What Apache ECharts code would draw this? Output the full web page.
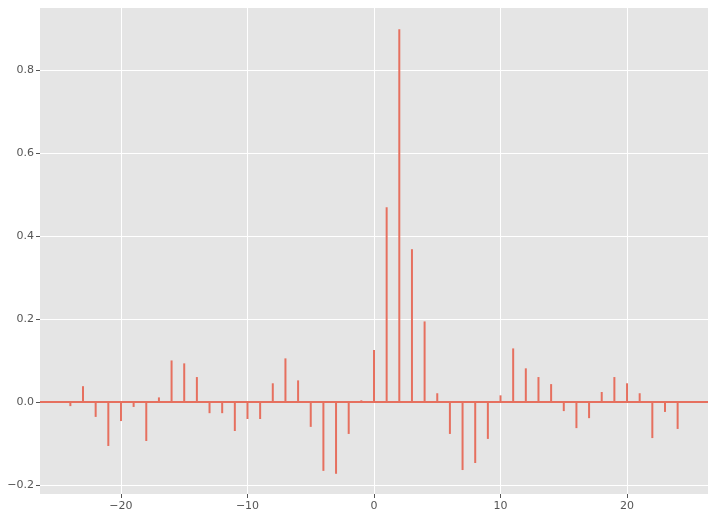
<!DOCTYPE html>
<html>
<head>
<meta charset="utf-8">
<script src="https://cdn.jsdelivr.net/npm/echarts@6/dist/echarts.min.js"></script>
<style>
  html, body { margin: 0; padding: 0; background: #fff; }
  #main { width: 715px; height: 520px; }
</style>
</head>
<body>
<div id="main"></div>
<script>
// lags and cross-correlation values
var lags = [-24, -23, -22, -21, -20, -19, -18, -17, -16, -15, -14, -13, -12, -11, -10, -9, -8, -7, -6, -5, -4, -3, -2, -1,
            0, 1, 2, 3, 4, 5, 6, 7, 8, 9, 10, 11, 12, 13, 14, 15, 16, 17, 18, 19, 20, 21, 22, 23, 24];
var corr = [-0.010, 0.038, -0.036, -0.106, -0.046, -0.012, -0.094, 0.011, 0.100, 0.093, 0.060, -0.027, -0.027, -0.070,
            -0.041, -0.041, 0.045, 0.105, 0.052, -0.060, -0.166, -0.173, -0.077, 0.004,
            0.125, 0.469, 0.898, 0.368, 0.194, 0.021, -0.077, -0.164, -0.147, -0.089, 0.016, 0.129, 0.081, 0.060,
            0.043, -0.022, -0.063, -0.039, 0.024, 0.060, 0.045, 0.021, -0.087, -0.024, -0.065];
var xTicks = [-20, -10, 0, 10, 20];
var yTicks = [-0.2, 0, 0.2, 0.4, 0.6, 0.8];

var stemColor = '#E6705F';

var chart = echarts.init(document.getElementById('main'));

var stems = [];
for (var i = 0; i < lags.length; i++) {
    stems.push([lags[i], corr[i]]);
}

function minus(s) {
    return s.replace('-', '\u2212');
}

chart.setOption({
    animation: false,
    backgroundColor: '#fff',
    grid: {
        left: 40,
        right: 7,
        top: 8,
        bottom: 26,
        show: true,
        backgroundColor: '#E5E5E5',
        borderWidth: 0
    },
    xAxis: {
        type: 'value',
        min: -26.4,
        max: 26.4,
        axisLine: { show: false, onZero: false },
        axisTick: {
            show: true,
            length: 4,
            lineStyle: { color: '#555' },
            customValues: xTicks
        },
        axisLabel: {
            color: '#555',
            fontFamily: 'DejaVu Sans',
            fontSize: 11,
            margin: 7,
            customValues: xTicks,
            formatter: function (v) { return minus(String(v)); }
        },
        splitLine: { show: true, lineStyle: { color: '#fff', width: 1 } }
    },
    yAxis: {
        type: 'value',
        min: -0.2217,
        max: 0.949,
        axisLine: { show: false, onZero: false },
        axisTick: {
            show: true,
            length: 4,
            lineStyle: { color: '#555' },
            customValues: yTicks
        },
        axisLabel: {
            color: '#555',
            fontFamily: 'DejaVu Sans',
            fontSize: 11,
            margin: 6,
            customValues: yTicks,
            formatter: function (v) { return minus(v.toFixed(1)); }
        },
        splitLine: { show: true, lineStyle: { color: '#fff', width: 1 } }
    },
    series: [
        {
            type: 'bar',
            data: stems,
            barWidth: 2,
            itemStyle: { color: stemColor },
            markLine: {
                silent: true,
                symbol: 'none',
                label: { show: false },
                lineStyle: { color: stemColor, width: 2, type: 'solid' },
                data: [{ yAxis: 0 }]
            }
        }
    ]
});
</script>
</body>
</html>
